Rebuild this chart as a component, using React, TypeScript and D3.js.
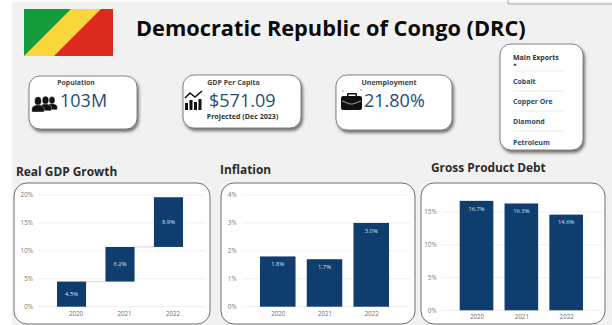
import React from "react";
import * as d3 from "d3";

const years = ["2020", "2021", "2022"];
const growthValues = [4.5, 6.2, 8.9];
const inflationValues = [1.8, 1.7, 3.0];
const debtValues = [16.7, 16.3, 14.6];
const growthTicks = [0, 5, 10, 15, 20];
const inflationTicks = [0, 1, 2, 3, 4];
const debtTicks = [0, 5, 10, 15];
const exportNames = ["Cobalt", "Copper Ore", "Diamond", "Petroleum"];

const NAVY = "#0f3d6e";
const FONT = "'Open Sans', sans-serif";

type PanelProps = {
  title: string; titleX: number; titleY: number;
  box: [number, number, number, number];
  values: number[]; ticks: number[]; maxValue: number;
  xRange: [number, number]; paddingInner: number;
  yRange: [number, number]; gridEnd: number; tickX: number;
  waterfall?: boolean; yearShift?: number;
};

function Panel(p: PanelProps) {
  const x = d3.scaleBand<string>().domain(years).range(p.xRange).paddingInner(p.paddingInner).paddingOuter(0);
  const y = d3.scaleLinear().domain([0, p.maxValue]).range(p.yRange);
  const ends = p.waterfall ? Array.from(d3.cumsum(p.values)) : p.values;
  const starts = p.waterfall ? ends.map((_, i) => (i === 0 ? 0 : ends[i - 1])) : p.values.map(() => 0);
  const [bx, by, bw, bh] = p.box;
  return (
    <g>
      <text x={p.titleX} y={p.titleY} fontFamily={FONT} fontWeight={700} fontSize={11.9} fill="#2b2b2b">{p.title}</text>
      <rect x={bx} y={by} width={bw} height={bh} rx={13} fill="#fff" stroke="#5e5e5e" strokeWidth={0.9} />
      {p.ticks.map((t) => (
        <g key={t}>
          <line x1={p.tickX + 5} x2={p.gridEnd} y1={y(t)} y2={y(t)} stroke="#efefef" strokeWidth={1} />
          <text x={p.tickX} y={y(t) + 2.2} textAnchor="end" fontFamily={FONT} fontSize={6.3} fill="#777">{t}%</text>
        </g>
      ))}
      {p.waterfall && ends.slice(0, -1).map((e, i) => (
        <line key={i} x1={x(years[i])! + x.bandwidth()} x2={x(years[i + 1])!} y1={y(e)} y2={y(e)} stroke="#c4c4c4" strokeWidth={0.7} />
      ))}
      {years.map((yr, i) => {
        const top = y(ends[i]);
        const bottom = y(starts[i]);
        const labelY = p.waterfall ? (top + bottom) / 2 + 2 : top + 9.7;
        const centre = x(yr)! + x.bandwidth() / 2;
        return (
          <g key={yr}>
            <rect x={x(yr)} y={top} width={x.bandwidth()} height={bottom - top} fill={NAVY} />
            <text x={centre} y={labelY} textAnchor="middle" fontFamily={FONT} fontSize={5.8} fill="#cfe0f0">
              {p.values[i].toFixed(1)}%
            </text>
            <text x={centre + (p.yearShift ?? 0.5)} y={p.yRange[0] + 9} textAnchor="middle" fontFamily={FONT} fontSize={6.2} fill="#6d6d6d">{yr}</text>
          </g>
        );
      })}
    </g>
  );
}

function KpiCard({ x, y, w, h }: { x: number; y: number; w: number; h: number }) {
  return <rect x={x} y={y} width={w} height={h} rx={11} fill="#fff" stroke="#666" strokeWidth={0.8} filter="url(#cardShadow)" />;
}

// One head-and-shoulders figure of the population icon
function Person({ x, y, s }: { x: number; y: number; s: number }) {
  return (
    <g transform={`translate(${x},${y}) scale(${s})`} stroke="#fff" strokeWidth={0.35}>
      <ellipse cx={0} cy={-5} rx={3.1} ry={3.9} />
      <path d="M-5.6,5 L-5.6,1.6 Q-5,-0.8 -1.6,-1.4 L1.6,-1.4 Q5,-0.8 5.6,1.6 L5.6,5 Z" />
    </g>
  );
}

export default function App() {
  return (
    <svg width={612} height={325} style={{ position: "fixed", left: 0, top: 0 }}>
      <defs>
        <filter id="cardShadow" x="-15%" y="-15%" width="130%" height="135%">
          <feDropShadow dx={1.5} dy={2.5} stdDeviation={1.8} floodColor="#000" floodOpacity={0.55} />
        </filter>
        <clipPath id="flagClip"><rect x={24} y={9} width={89} height={47} /></clipPath>
      </defs>
      <rect width={612} height={325} fill="#fff" />
      <rect x={12} y={2} width={600} height={323} fill="#f2f1f1" />
      <path d="M508,0 V4 H612" fill="none" stroke="#9a9a9a" strokeWidth={0.8} />

      {/* Flag */}
      <g clipPath="url(#flagClip)">
        <rect x={24} y={9} width={89} height={47} fill="#dc2a1e" />
        <path d="M24,9 H101 L54,56 H24 Z" fill="#f8d63c" />
        <path d="M24,9 H71 L24,56 Z" fill="#149c3c" />
      </g>

      <text x={136} y={36} fontFamily={FONT} fontWeight={700} fontSize={21.75} fill="#0b0b0b">Democratic Republic of Congo (DRC)</text>

      {/* Population */}
      <KpiCard x={29} y={76} w={108} h={53} />
      <text x={76} y={85} textAnchor="middle" fontFamily={FONT} fontWeight={700} fontSize={6.9} fill="#444">Population</text>
      <g fill="#111">
        <Person x={52} y={105} s={0.95} />
        <Person x={45.5} y={105.5} s={1.05} />
        <Person x={38} y={106.5} s={1.1} />
      </g>
      <text x={60} y={106.5} fontFamily={FONT} fontSize={18} fill="#1f4e79">103M</text>

      {/* GDP per capita */}
      <KpiCard x={183} y={75} w={118} h={53} />
      <text x={233.5} y={85} textAnchor="middle" fontFamily={FONT} fontWeight={700} fontSize={7} fill="#444">GDP Per Capita</text>
      <g fill="#111">
        <rect x={185} y={103} width={3} height={7} />
        <rect x={189.5} y={100} width={3} height={10} />
        <rect x={194} y={102} width={3} height={8} />
        <rect x={198.5} y={99} width={3} height={11} />
        <path d="M185,98 L190,93 L195,97 L202,91" fill="none" stroke="#111" strokeWidth={1.6} />
      </g>
      <text x={209} y={106.5} fontFamily={FONT} fontSize={18} fill="#1f4e79">$571.09</text>
      <text x={242.5} y={119} textAnchor="middle" fontFamily={FONT} fontWeight={700} fontSize={7.1} fill="#333">Projected (Dec 2023)</text>

      {/* Unemployment */}
      <KpiCard x={336} y={75} w={116} h={55} />
      <text x={389} y={85} textAnchor="middle" fontFamily={FONT} fontWeight={700} fontSize={7.1} fill="#444">Unemployment</text>
      <g fill="#111">
        <path d="M347,96 V94 Q347,93 348,93 H356 Q357,93 357,94 V96 H355.6 V94.5 H348.4 V96 Z" />
        <rect x={341} y={96} width={21} height={14} rx={2} />
        <path d="M342,101 L350,104 H353 L361,101" fill="none" stroke="#ddd" strokeWidth={0.7} />
        <circle cx={343} cy={91} r={0.6} />
        <circle cx={361} cy={90} r={0.6} />
      </g>
      <text x={364} y={106.5} fontFamily={FONT} fontSize={18} fill="#1f4e79">21.80%</text>

      {/* Main exports list */}
      <KpiCard x={500} y={44} w={83} h={106} />
      <text x={513} y={59.5} fontFamily={FONT} fontWeight={700} fontSize={7} fill="#333">Main Exports</text>
      <path d="M515,63.5 L517,65.5 H513 Z" fill="#222" />
      {exportNames.map((name, i) => (
        <g key={name}>
          <line x1={513} x2={563} y1={71 + i * 20} y2={71 + i * 20} stroke="#e6e6e6" strokeWidth={0.8} />
          <text x={513} y={84 + i * 20.2} fontFamily={FONT} fontWeight={700} fontSize={7} fill="#274a6d">{name}</text>
        </g>
      ))}

      <Panel title="Real GDP Growth" titleX={16} titleY={176} box={[14, 183, 196, 141]}
        values={growthValues} ticks={growthTicks} maxValue={20} xRange={[57, 183]} paddingInner={0.4}
        yRange={[306.7, 195]} gridEnd={205} tickX={33} waterfall yearShift={4.5} />
      <Panel title="Inflation" titleX={220} titleY={174} box={[221, 183, 194, 141]}
        values={inflationValues} ticks={inflationTicks} maxValue={4} xRange={[260, 389]} paddingInner={0.24}
        yRange={[306.7, 195]} gridEnd={410} tickX={236.7} />
      <Panel title="Gross Product Debt" titleX={431} titleY={172} box={[421, 183, 184, 141]}
        values={debtValues} ticks={debtTicks} maxValue={15} xRange={[459.7, 583]} paddingInner={0.25}
        yRange={[310.3, 212]} gridEnd={602} tickX={436.7} />
    </svg>
  );
}
